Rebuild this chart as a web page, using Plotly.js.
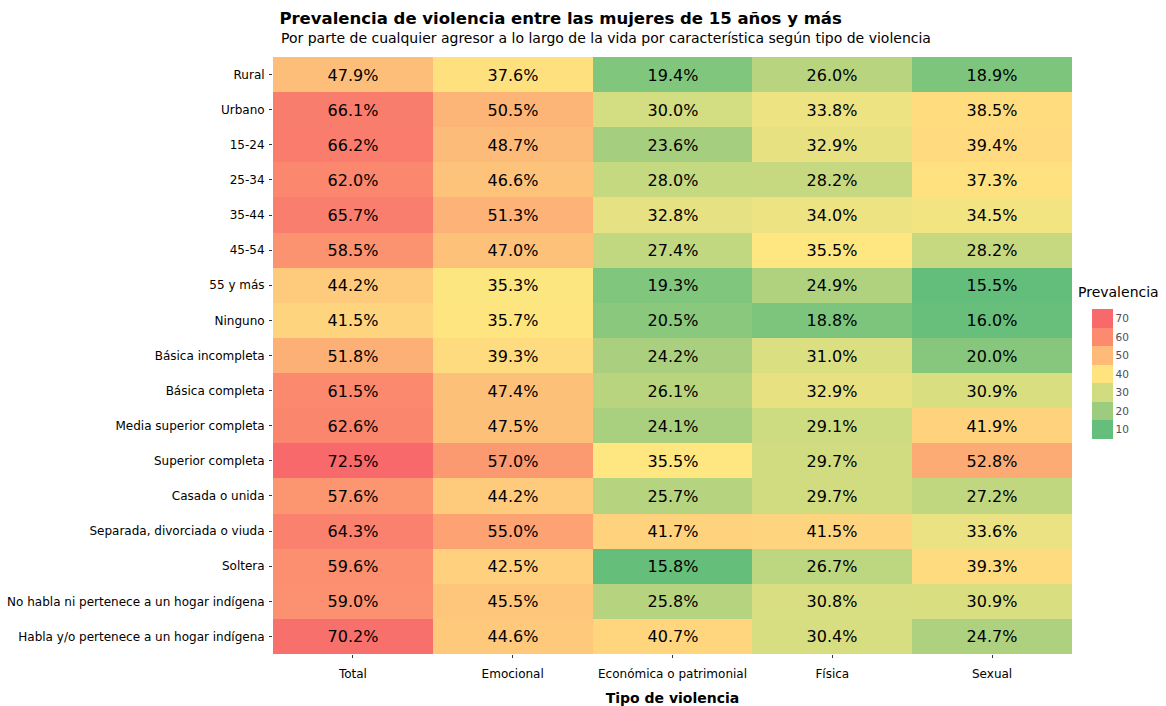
<!DOCTYPE html>
<html>
<head>
<meta charset="utf-8">
<script src="https://cdn.plot.ly/plotly-3.0.1.min.js"></script>
<style>html,body{margin:0;padding:0;background:#fff;}#chart{width:1166px;height:706px;}</style>
</head>
<body>
<div id="chart"></div>
<script>
const categories = ["Rural","Urbano","15-24","25-34","35-44","45-54","55 y más","Ninguno","Básica incompleta","Básica completa","Media superior completa","Superior completa","Casada o unida","Separada, divorciada o viuda","Soltera","No habla ni pertenece a un hogar indígena","Habla y/o pertenece a un hogar indígena"];
const tipos = ["Total","Emocional","Económica o patrimonial","Física","Sexual"];
const total     = [47.9,66.1,66.2,62.0,65.7,58.5,44.2,41.5,51.8,61.5,62.6,72.5,57.6,64.3,59.6,59.0,70.2];
const emocional = [37.6,50.5,48.7,46.6,51.3,47.0,35.3,35.7,39.3,47.4,47.5,57.0,44.2,55.0,42.5,45.5,44.6];
const economica = [19.4,30.0,23.6,28.0,32.8,27.4,19.3,20.5,24.2,26.1,24.1,35.5,25.7,41.7,15.8,25.8,40.7];
const fisica    = [26.0,33.8,32.9,28.2,34.0,35.5,24.9,18.8,31.0,32.9,29.1,29.7,29.7,41.5,26.7,30.8,30.4];
const sexual    = [18.9,38.5,39.4,37.3,34.5,28.2,15.5,16.0,20.0,30.9,41.9,52.8,27.2,33.6,39.3,30.9,24.7];
const legendTicks = [10,20,30,40,50,60,70];

const series = [total, emocional, economica, fisica, sexual];
const z = categories.map((c, i) => series.map(s => s[i]));

const zmin = 15.5, zmax = 72.5;
const stops = [[15.5,"#63BE7B"],[20,"#86C77D"],[25,"#B1D27F"],[30,"#D3DD81"],[34,"#EEE383"],[35.5,"#FEE680"],[38,"#FFDF7F"],[42,"#FFD27E"],[45,"#FEC87B"],[48,"#FDBE79"],[51,"#FDB377"],[55,"#FCA273"],[58,"#FB9470"],[62,"#FA876E"],[66,"#F97D6D"],[72.5,"#F8696B"]];
const colorscale = stops.map(s => [(s[0]-zmin)/(zmax-zmin), s[1]]);

const legendColors = ["#65BE7C","#9DCC7E","#D1DC80","#FFE37F","#FDBA79","#FB8A6E","#F8696B"];
const stepScale = [];
legendColors.forEach((c, i) => { stepScale.push([i/7, c]); stepScale.push([(i+1)/7, c]); });

const T = 57, B = 52, L = 273, R = 94;
const PH = 706 - T - B, PW = 1166 - L - R;

const dummy = {
  type: "heatmap", x: tipos, y: categories, z: z,
  zmin: 5, zmax: 75, colorscale: stepScale, hoverinfo: "skip",
  showscale: true,
  colorbar: {
    x: (1092 - L) / PW, xanchor: "left", xpad: 0, ypad: 0,
    y: (706 - B - 374) / PH, yanchor: "middle",
    lenmode: "pixels", len: 130, thickness: 21, outlinewidth: 0,
    tickvals: legendTicks, ticktext: legendTicks.map(String), ticks: "",
    tickfont: {family: "DejaVu Sans", size: 10.5, color: "#4D4D5A"},
    title: {text: ""}
  }
};
const main = {
  type: "heatmap", x: tipos, y: categories, z: z,
  zmin: zmin, zmax: zmax, colorscale: colorscale, showscale: false,
  texttemplate: "%{z:.1f}%",
  textfont: {family: "DejaVu Sans", size: 16, color: "#000"},
  hovertemplate: "%{y}<br>%{x}: %{z:.1f}%<extra></extra>"
};

const layout = {
  width: 1166, height: 706,
  margin: {l: L, r: R, t: T, b: B},
  paper_bgcolor: "#fff", plot_bgcolor: "#fff",
  font: {family: "DejaVu Sans", color: "#000"},
  title: {
    text: "<b>Prevalencia de violencia entre las mujeres de 15 años y más</b>",
    font: {family: "DejaVu Sans", size: 16.5, color: "#000"},
    xref: "paper", x: 0.008, xanchor: "left", y: 1 - 18/706, yanchor: "middle"
  },
  xaxis: {
    type: "category", side: "bottom", showgrid: false, zeroline: false,
    ticks: "outside", ticklen: 3, tickcolor: "#333", ticklabelstandoff: 6,
    tickfont: {family: "DejaVu Sans", size: 12, color: "#000"},
    title: {text: "<b>Tipo de violencia</b>", font: {family: "DejaVu Sans", size: 14, color: "#000"}, standoff: 14}
  },
  yaxis: {
    type: "category", autorange: "reversed", showgrid: false, zeroline: false,
    ticks: "outside", ticklen: 3, tickcolor: "#333", ticklabelstandoff: 2,
    tickfont: {family: "DejaVu Sans", size: 12, color: "#000"}
  },
  annotations: [
    {text: "Por parte de cualquier agresor a lo largo de la vida por característica según tipo de violencia",
     xref: "paper", yref: "paper", x: 0.008, y: 1 + 19/PH, xanchor: "left", yanchor: "middle",
     showarrow: false, font: {family: "DejaVu Sans", size: 14, color: "#000"}},
    {text: "Prevalencia", xref: "paper", yref: "paper", x: (1076 - L) / PW, y: (706 - B - 292) / PH,
     xanchor: "left", yanchor: "middle", showarrow: false,
     font: {family: "DejaVu Sans", size: 14, color: "#000"}}
  ]
};

Plotly.newPlot("chart", [dummy, main], layout, {displayModeBar: false, staticPlot: true});
</script>
</body>
</html>
